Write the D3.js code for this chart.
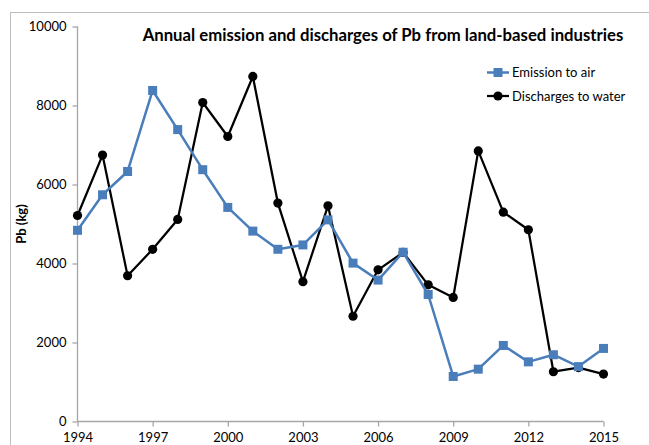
<!DOCTYPE html>
<html>
<head>
<meta charset="utf-8">
<script src="https://cdn.jsdelivr.net/npm/d3@7"></script>
<style>
  html, body { margin: 0; padding: 0; background: #fff; }
  svg { display: block; font-family: Lato, "Open Sans", "Liberation Sans", sans-serif; }
</style>
</head>
<body>
<svg id="chart" width="649" height="445"></svg>
<script>
// Pb loads (kg) per year
const years = [1994, 1995, 1996, 1997, 1998, 1999, 2000, 2001, 2002, 2003, 2004,
               2005, 2006, 2007, 2008, 2009, 2010, 2011, 2012, 2013, 2014, 2015];
const emissionToAir = [4840, 5740, 6330, 8380, 7390, 6375, 5420, 4820, 4360, 4470, 5105,
                       4010, 3580, 4285, 3215, 1140, 1325, 1925, 1510, 1690, 1390, 1850];
const dischargesToWater = [5215, 6745, 3690, 4360, 5115, 8075, 7215, 8735, 5530, 3540, 5460,
                           2665, 3840, 4280, 3460, 3140, 6850, 5300, 4855, 1260, 1365, 1200];
const xTickYears = [1994, 1997, 2000, 2003, 2006, 2009, 2012, 2015];
const yTickValues = [0, 2000, 4000, 6000, 8000, 10000];
const seriesNames = ["Emission to air", "Discharges to water"];
const titleText = "Annual emission and discharges of Pb from land-based industries";
const yAxisTitle = "Pb (kg)";

const svg = d3.select("#chart");
const blue = "#4a7ebb";
const axisGrey = "#a6a6a6";

// outer chart frame
svg.append("rect")
  .attr("x", 10.5).attr("y", 12.5)
  .attr("width", 660).attr("height", 460)
  .attr("fill", "none").attr("stroke", "#bfbfbf").attr("stroke-width", 1);

const x = d3.scaleLinear().domain([1994, 2015]).range([77.5, 603.5]);
const y = d3.scaleLinear().domain([0, 10000]).range([421.5, 26.5]);

// y axis
const yAxis = svg.append("g").attr("transform", "translate(77.5,0)")
  .call(d3.axisLeft(y).tickValues(yTickValues).tickSize(5).tickPadding(5).tickFormat(d3.format("d")));
// x axis
const xAxis = svg.append("g").attr("transform", "translate(0,421.5)")
  .call(d3.axisBottom(x).tickValues(xTickYears).tickSize(5).tickPadding(6).tickFormat(d3.format("d")));

[yAxis, xAxis].forEach(g => {
  g.select(".domain").attr("stroke", axisGrey).attr("stroke-width", 1.3);
  g.selectAll(".tick line").attr("stroke", axisGrey).attr("stroke-width", 1.3);
  g.selectAll(".tick text").attr("fill", "#000").style("font-size", "13px")
    .style("font-family", "Lato, 'Open Sans', sans-serif");
});
yAxis.select(".domain").attr("d", `M0,${y(10000)}V${y(0)}`);
xAxis.select(".domain").attr("d", `M${x(1994)},0H${x(2015)}`);
yAxis.selectAll(".tick text").attr("x", -11);

// y axis title
svg.append("text")
  .attr("transform", "translate(26,224) rotate(-90)")
  .attr("text-anchor", "middle")
  .style("font-size", "13px").style("font-weight", "bold")
  .text(yAxisTitle);

// title, sized to span its row
const title = svg.append("text")
  .attr("x", 383).attr("y", 41)
  .attr("text-anchor", "middle")
  .style("font-size", "16px").style("font-weight", "bold")
  .text(titleText);
const titleLen = title.node().getComputedTextLength();
title.style("font-size", (16 * 481 / titleLen).toFixed(2) + "px");

const line = d3.line().x((d, i) => x(years[i])).y(d => y(d));

// discharges to water
svg.append("path").datum(dischargesToWater)
  .attr("d", line).attr("fill", "none")
  .attr("stroke", "#000").attr("stroke-width", 2.25).attr("stroke-linejoin", "round");
svg.append("g").selectAll("circle").data(dischargesToWater).join("circle")
  .attr("cx", (d, i) => x(years[i])).attr("cy", d => y(d))
  .attr("r", 4.6).attr("fill", "#000");

// emission to air
svg.append("path").datum(emissionToAir)
  .attr("d", line).attr("fill", "none")
  .attr("stroke", blue).attr("stroke-width", 2.5).attr("stroke-linejoin", "round");
svg.append("g").selectAll("rect").data(emissionToAir).join("rect")
  .attr("x", (d, i) => x(years[i]) - 4.5).attr("y", d => y(d) - 4.5)
  .attr("width", 9).attr("height", 9).attr("fill", blue);

// legend
const legend = svg.append("g");
const legendRows = [
  { name: seriesNames[0], color: blue, shape: "square", yPos: 72.5 },
  { name: seriesNames[1], color: "#000", shape: "circle", yPos: 96 }
];
legendRows.forEach(r => {
  legend.append("line")
    .attr("x1", 487).attr("x2", 509).attr("y1", r.yPos).attr("y2", r.yPos)
    .attr("stroke", r.color).attr("stroke-width", r.shape === "square" ? 2.5 : 2.25);
  if (r.shape === "square") {
    legend.append("rect").attr("x", 498 - 4.5).attr("y", r.yPos - 4.5)
      .attr("width", 9).attr("height", 9).attr("fill", r.color);
  } else {
    legend.append("circle").attr("cx", 498).attr("cy", r.yPos).attr("r", 4.6).attr("fill", r.color);
  }
  legend.append("text").attr("x", 512).attr("y", r.yPos).attr("dy", "0.35em")
    .style("font-size", "13px").text(r.name);
});
</script>
</body>
</html>
